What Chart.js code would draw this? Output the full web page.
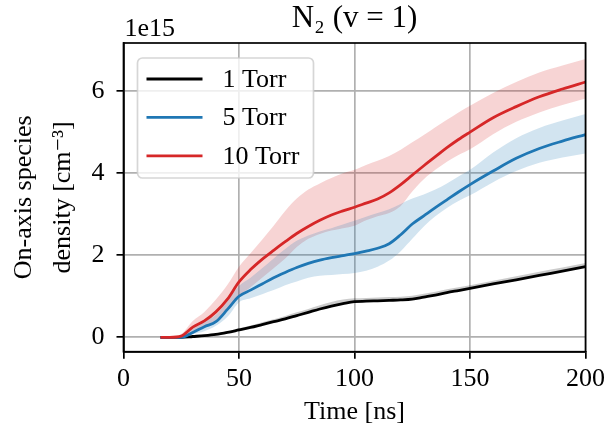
<!DOCTYPE html>
<html>
<head>
<meta charset="utf-8">
<script src="https://cdn.jsdelivr.net/npm/chart.js@4.4.1/dist/chart.umd.min.js"></script>
<style>
  html, body { margin: 0; padding: 0; background: #fff; }
  canvas { display: block; }
</style>
</head>
<body>
<canvas id="chart" width="606" height="431"></canvas>
<script>
// values in units of 1e15 cm^-3
const time    = [16, 20, 25, 30, 35, 40, 45, 50, 55, 60, 65, 70, 75, 80, 85, 90, 95, 100, 105, 110, 115, 120, 125, 130, 135, 140, 145, 150, 160, 170, 180, 190, 200]

const torr1   = [0, 0, 0, 0.02, 0.04, 0.07, 0.12, 0.18, 0.24, 0.31, 0.38, 0.45, 0.53, 0.61, 0.69, 0.76, 0.82, 0.87, 0.88, 0.89, 0.90, 0.91, 0.93, 0.98, 1.03, 1.09, 1.14, 1.19, 1.30, 1.40, 1.51, 1.61, 1.72]
const torr1Hi = [0, 0, 0, 0.03, 0.05, 0.09, 0.15, 0.22, 0.29, 0.37, 0.44, 0.52, 0.61, 0.69, 0.78, 0.86, 0.92, 0.95, 0.96, 0.97, 0.98, 0.99, 1.01, 1.06, 1.11, 1.17, 1.22, 1.27, 1.38, 1.49, 1.60, 1.70, 1.81]
const torr1Lo = [0, 0, 0, 0.02, 0.04, 0.07, 0.11, 0.17, 0.23, 0.30, 0.36, 0.43, 0.51, 0.59, 0.67, 0.74, 0.80, 0.86, 0.87, 0.88, 0.89, 0.90, 0.92, 0.97, 1.02, 1.08, 1.13, 1.18, 1.29, 1.39, 1.50, 1.60, 1.71]

const torr5   = [0, 0, 0, 0.12, 0.26, 0.38, 0.68, 1.00, 1.15, 1.30, 1.45, 1.58, 1.70, 1.80, 1.88, 1.94, 1.99, 2.04, 2.10, 2.17, 2.28, 2.50, 2.76, 2.96, 3.16, 3.35, 3.54, 3.72, 4.05, 4.36, 4.60, 4.78, 4.94]
const torr5Hi = [0, 0, 0.02, 0.20, 0.38, 0.55, 0.88, 1.25, 1.45, 1.68, 1.92, 2.15, 2.35, 2.48, 2.58, 2.66, 2.75, 2.84, 2.94, 3.03, 3.12, 3.25, 3.38, 3.48, 3.60, 3.75, 3.92, 4.08, 4.50, 4.85, 5.10, 5.28, 5.44]
const torr5Lo = [0, 0, 0, 0.08, 0.15, 0.28, 0.50, 0.85, 0.95, 1.05, 1.15, 1.27, 1.36, 1.45, 1.50, 1.52, 1.54, 1.57, 1.62, 1.72, 1.87, 2.10, 2.40, 2.70, 2.95, 3.15, 3.32, 3.46, 3.78, 4.05, 4.25, 4.38, 4.48]

const torr10   = [0, 0, 0.03, 0.25, 0.40, 0.62, 0.93, 1.35, 1.65, 1.90, 2.12, 2.33, 2.53, 2.70, 2.85, 2.98, 3.08, 3.17, 3.27, 3.37, 3.52, 3.72, 3.95, 4.18, 4.40, 4.62, 4.82, 5.00, 5.35, 5.62, 5.86, 6.05, 6.22]
const torr10Hi = [0, 0, 0.08, 0.40, 0.62, 0.92, 1.28, 1.72, 2.05, 2.38, 2.72, 3.08, 3.38, 3.60, 3.75, 3.88, 4.00, 4.08, 4.20, 4.30, 4.42, 4.57, 4.75, 4.93, 5.12, 5.30, 5.48, 5.64, 5.95, 6.22, 6.45, 6.62, 6.78]
const torr10Lo = [0, 0, 0, 0.12, 0.25, 0.42, 0.65, 1.00, 1.22, 1.45, 1.68, 1.92, 2.20, 2.40, 2.52, 2.60, 2.66, 2.72, 2.85, 2.95, 3.03, 3.20, 3.55, 3.85, 4.08, 4.28, 4.44, 4.58, 4.95, 5.25, 5.48, 5.66, 5.82]

const xTicks = [0, 50, 100, 150, 200]
const yTicks = [0, 2, 4, 6]

const serif = "'Liberation Serif', 'DejaVu Serif', serif"
const pts = ys => time.map((t, i) => ({ x: t, y: ys[i] }))

const line = (label, ys, color, order) => ({
  label, data: pts(ys), borderColor: color, backgroundColor: color,
  borderWidth: 2.8, pointRadius: 0, fill: false, order, legend: true,
  cubicInterpolationMode: "monotone"
})
const lower = ys => ({
  data: pts(ys), borderWidth: 0, pointRadius: 0, fill: false, order: 20,
  cubicInterpolationMode: "monotone"
})
const upper = (ys, shade) => ({
  data: pts(ys), borderWidth: 0, pointRadius: 0, fill: "-1",
  backgroundColor: shade, order: 20, cubicInterpolationMode: "monotone"
})

// legend box drawn inside the axes, plus the outer frame and offset text
const frame = {
  id: "frame",
  afterDatasetsDraw(chart) {
    const { ctx, chartArea: a } = chart
    ctx.save()
    ctx.strokeStyle = "#000"
    ctx.lineWidth = 1.7
    ctx.strokeRect(a.left, a.top, a.right - a.left, a.bottom - a.top)

    ctx.fillStyle = "#000"
    ctx.font = `26px ${serif}`
    ctx.textAlign = "left"
    ctx.textBaseline = "alphabetic"
    ctx.fillText("1e15", a.left + 1, a.top - 7)

    const items = chart.data.datasets.filter(d => d.legend)
    const bx = a.left + 14, by = a.top + 15, bw = 176, bh = 120
    ctx.beginPath()
    ctx.roundRect(bx, by, bw, bh, 5)
    ctx.fillStyle = "rgba(255,255,255,0.8)"
    ctx.fill()
    ctx.strokeStyle = "rgba(204,204,204,0.8)"
    ctx.lineWidth = 1.7
    ctx.stroke()

    items.forEach((d, i) => {
      const y = by + 21 + i * 38.4
      ctx.beginPath()
      ctx.moveTo(bx + 9, y)
      ctx.lineTo(bx + 65, y)
      ctx.strokeStyle = d.borderColor
      ctx.lineWidth = 2.8
      ctx.stroke()
      ctx.fillStyle = "#000"
      ctx.textBaseline = "middle"
      ctx.fillText(d.label, bx + 85, y + 1)
    })
    ctx.restore()
  }
}

new Chart(document.getElementById("chart"), {
  type: "line",
  data: {
    datasets: [
      line("1 Torr",  torr1,  "#000000", 3),
      line("5 Torr",  torr5,  "#1f77b4", 2),
      line("10 Torr", torr10, "#d62728", 1),
      lower(torr1Lo),  upper(torr1Hi,  "rgba(0,0,0,0.2)"),
      lower(torr5Lo),  upper(torr5Hi,  "rgba(31,119,180,0.2)"),
      lower(torr10Lo), upper(torr10Hi, "rgba(214,39,40,0.2)")
    ]
  },
  options: {
    responsive: false,
    animation: false,
    layout: { padding: { left: 0, right: 20.5, top: 0, bottom: 0 } },
    plugins: {
      legend: { display: false },
      tooltip: { enabled: false },
      title: {
        display: true,
        text: "N\u2082 (v = 1)",
        color: "#000",
        fullSize: false,
        font: { family: serif, size: 31, weight: "normal", lineHeight: 1.2 },
        padding: { top: 0, bottom: 5.8 }
      }
    },
    scales: {
      x: {
        type: "linear",
        min: 0, max: 200,
        afterBuildTicks: s => { s.ticks = xTicks.map(v => ({ value: v })) },
        afterFit: s => { s.height = 79.3; s.paddingLeft = 0; s.paddingRight = 0 },
        grid: { color: "#b0b0b0", lineWidth: 1.7, tickColor: "#000", tickWidth: 1.7, tickLength: 7 },
        border: { color: "#000", width: 1.7 },
        ticks: { color: "#000", font: { family: serif, size: 26 }, padding: 5, maxRotation: 0 },
        title: {
          display: true, text: "Time [ns]", color: "#000",
          font: { family: serif, size: 26, lineHeight: 1.2 },
          padding: { top: 0, bottom: 3.4 }
        }
      },
      y: {
        type: "linear",
        min: -0.35, max: 7.17,
        afterBuildTicks: s => { s.ticks = yTicks.map(v => ({ value: v })) },
        afterFit: s => { s.width = 123.5 },
        grid: { color: "#b0b0b0", lineWidth: 1.7, tickColor: "#000", tickWidth: 1.7, tickLength: 7 },
        border: { color: "#000", width: 1.7 },
        ticks: { color: "#000", font: { family: serif, size: 26 }, padding: 12 },
        title: {
          display: true, text: ["On-axis species", "density [cm\u207B\u00B3]"], color: "#000",
          font: { family: serif, size: 26, lineHeight: 1.5 },
          padding: { top: 4.5, bottom: 0 }
        }
      }
    }
  },
  plugins: [frame]
})
</script>
</body>
</html>
